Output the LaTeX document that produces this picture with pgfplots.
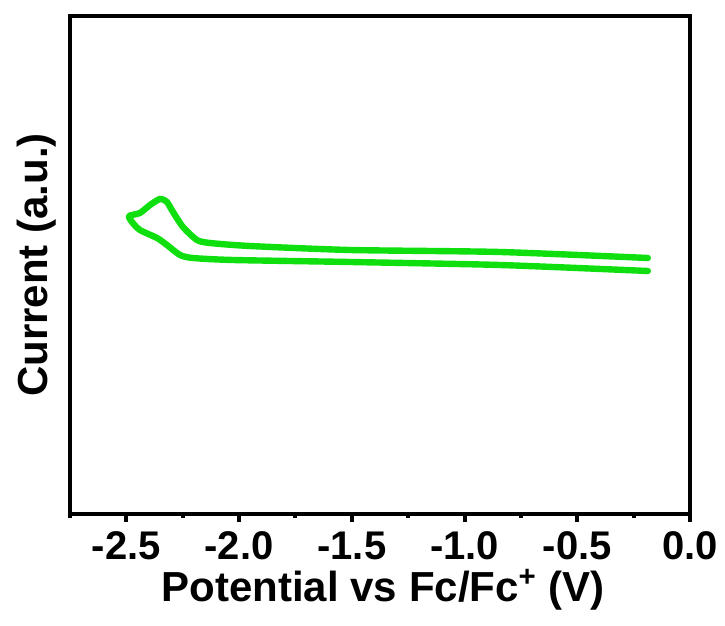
\documentclass[border=0pt]{standalone}
\usepackage{fontspec}
\setmainfont{Liberation Sans}
\usepackage{pgfplots}
\pgfplotsset{compat=1.18}
\definecolor{cvgreen}{RGB}{15,222,15}
\begin{document}
\begin{tikzpicture}
\begin{axis}[
  at={(0,0)}, anchor=south west,
  scale only axis, width=310pt, height=249pt,
  xmin=-2.75, xmax=0, ymin=0, ymax=498,
  axis line style={line width=2.2pt},
  xtick={-2.5,-2,-1.5,-1,-0.5,0},
  xticklabels={-2.5,-2.0,-1.5,-1.0,-0.5,0.0},
  minor xtick={-2.75,-2.25,-1.75,-1.25,-0.75,-0.25},
  ytick=\empty,
  xtick pos=bottom, tick align=outside,
  major tick length=4pt, minor tick length=2pt,
  tick style={line width=2pt, black},
  xticklabel style={font=\bfseries\fontsize{20}{22}\selectfont, anchor=base, inner sep=0pt, yshift=-19pt},
  xlabel={Potential vs Fc/Fc\textsuperscript{+} (V)},
  ylabel={Current (a.u.)},
  xlabel style={font=\bfseries\fontsize{21}{24}\selectfont, at={(axis description cs:0.505,0)}, anchor=base, inner sep=0pt, yshift=-44pt},
  ylabel style={font=\bfseries\fontsize{21}{24}\selectfont, at={(axis description cs:-0.021,0.5)}, anchor=south, inner sep=0pt},
  clip=false,
]
\addplot[cvgreen, line width=3.2pt, line cap=round, line join=round, smooth, tension=0.4] coordinates {
(-0.187,256) (-0.843,262) (-1.508,264) (-1.952,268) (-2.129,271) (-2.187,274)
(-2.249,287) (-2.293,302) (-2.320,312) (-2.351,315) (-2.395,309) (-2.440,301)
(-2.488,298) (-2.475,292) (-2.440,284) (-2.364,276) (-2.320,269) (-2.262,259)
(-2.205,256) (-2.027,254) (-1.508,252) (-0.843,249) (-0.187,243)
};
\end{axis}
\pgfresetboundingbox
\path (-35pt,-56pt) rectangle (327.5pt,257pt);
\end{tikzpicture}
\end{document}
